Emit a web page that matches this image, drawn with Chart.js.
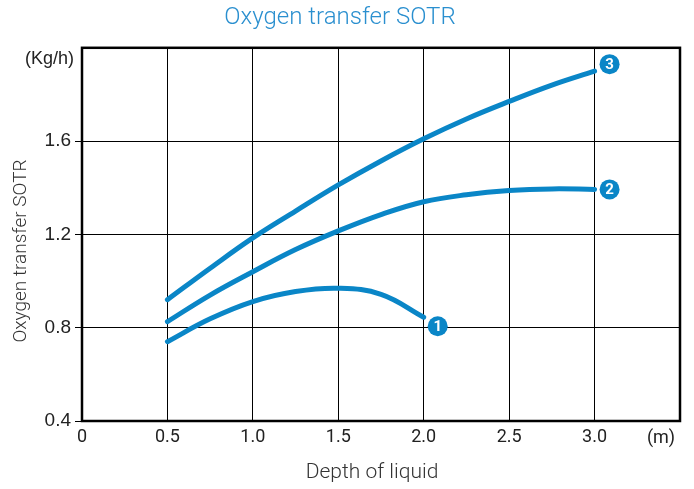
<!DOCTYPE html>
<html>
<head>
<meta charset="utf-8">
<script src="https://cdn.jsdelivr.net/npm/chart.js@4"></script>
<style>
  html, body { margin: 0; padding: 0; background: #fff; }
  #wrap { width: 694px; height: 489px; position: relative; }
</style>
</head>
<body>
<div id="wrap"><canvas id="sotr-chart"></canvas></div>
<script>
// depth of liquid (m)
const depth1 = [0.5, 0.75, 1.0, 1.25, 1.5, 1.75, 2.0];
const depth23 = [0.5, 0.75, 1.0, 1.25, 1.5, 1.75, 2.0, 2.25, 2.5, 2.75, 3.0];

// oxygen transfer SOTR (kg/h)
const sotr1 = [0.74, 0.838, 0.912, 0.955, 0.969, 0.943, 0.845];
const sotr2 = [0.826, 0.94, 1.04, 1.135, 1.215, 1.285, 1.34, 1.37, 1.388, 1.395, 1.393];
const sotr3 = [0.92, 1.055, 1.185, 1.30, 1.412, 1.515, 1.61, 1.695, 1.77, 1.84, 1.90];

const curveNames = ['1', '2', '3'];
const xTicks = [0, 0.5, 1.0, 1.5, 2.0, 2.5, 3.0];
const yTicks = [0.4, 0.8, 1.2, 1.6];

const BLUE = '#0a86c7';

const toPoints = (xs, ys) => xs.map((x, i) => ({ x, y: ys[i] }));

// circled number at the end of each curve
const endBadges = {
  id: 'endBadges',
  afterDatasetsDraw(chart) {
    const ctx = chart.ctx;
    const offsets = [[14, 9], [15, 0], [15, -7]];
    chart.data.datasets.forEach((ds, i) => {
      const meta = chart.getDatasetMeta(i);
      const last = meta.data[meta.data.length - 1];
      const cx = last.x + offsets[i][0];
      const cy = last.y + offsets[i][1];
      ctx.save();
      ctx.beginPath();
      ctx.arc(cx, cy, 10, 0, Math.PI * 2);
      ctx.fillStyle = BLUE;
      ctx.fill();
      ctx.fillStyle = '#fff';
      ctx.font = 'bold 15px Roboto';
      ctx.textAlign = 'center';
      ctx.textBaseline = 'middle';
      ctx.fillText(curveNames[i], cx, cy + 1);
      ctx.restore();
    });
  }
};

// frame, unit labels and axis titles
const frameAndText = {
  id: 'frameAndText',
  afterDraw(chart) {
    const ctx = chart.ctx;
    const a = chart.chartArea;
    ctx.save();
    ctx.strokeStyle = '#000';
    ctx.lineWidth = 2.5;
    ctx.strokeRect(a.left, a.top, a.right - a.left, a.bottom - a.top);

    ctx.fillStyle = '#222';
    ctx.font = '18px "Liberation Sans", Arial';
    ctx.textAlign = 'right';
    ctx.textBaseline = 'middle';
    ctx.fillText('(Kg/h)', a.left - 8, a.top + 11);

    ctx.font = '18px Roboto';
    ctx.textAlign = 'center';
    ctx.fillText('(m)', a.right - 19, a.bottom + 17);

    ctx.fillStyle = '#333';
    ctx.font = '300 21px Roboto';
    ctx.fillText('Depth of liquid', 372, 473);

    ctx.font = '300 19px Roboto';
    ctx.translate(21, 251);
    ctx.rotate(-Math.PI / 2);
    ctx.fillText('Oxygen transfer SOTR', 0, 0);
    ctx.restore();
  }
};

const lineStyle = {
  borderColor: BLUE,
  borderWidth: 5,
  borderCapStyle: 'round',
  pointRadius: 0,
  fill: false,
  tension: 0.4
};

new Chart(document.getElementById('sotr-chart'), {
  type: 'line',
  data: {
    datasets: [
      { label: curveNames[0], data: toPoints(depth1, sotr1), ...lineStyle },
      { label: curveNames[1], data: toPoints(depth23, sotr2), ...lineStyle },
      { label: curveNames[2], data: toPoints(depth23, sotr3), ...lineStyle }
    ]
  },
  options: {
    responsive: true,
    maintainAspectRatio: false,
    animation: false,
    layout: { padding: { top: 0, right: 14, bottom: 0, left: 0 } },
    plugins: {
      legend: { display: false },
      tooltip: { enabled: false },
      title: {
        display: true,
        text: 'Oxygen transfer SOTR',
        color: '#2a8fcf',
        font: { family: 'Roboto', size: 24, weight: 300 },
        padding: { top: 4, bottom: 15 }
      }
    },
    scales: {
      x: {
        type: 'linear',
        min: 0,
        max: 3.5,
        afterBuildTicks: s => { s.ticks = xTicks.map(v => ({ value: v })); },
        afterFit: s => { s.height = 68; },
        ticks: {
          color: '#222',
          padding: 6,
          font: { family: 'Roboto', size: 18 },
          callback: v => v === 0 ? '0' : v.toFixed(1)
        },
        grid: { color: '#000', lineWidth: 1, drawTicks: false },
        border: { display: false }
      },
      y: {
        min: 0.4,
        max: 2.0,
        afterBuildTicks: s => { s.ticks = yTicks.map(v => ({ value: v })); },
        afterFit: s => { s.width = 82; },
        ticks: {
          color: '#222',
          padding: 4,
          font: { family: '"Liberation Sans", Arial', size: 19 },
          callback: v => v.toFixed(1)
        },
        grid: { color: '#000', lineWidth: 1, tickLength: 7 },
        border: { display: false }
      }
    }
  },
  plugins: [endBadges, frameAndText]
});
</script>
</body>
</html>
